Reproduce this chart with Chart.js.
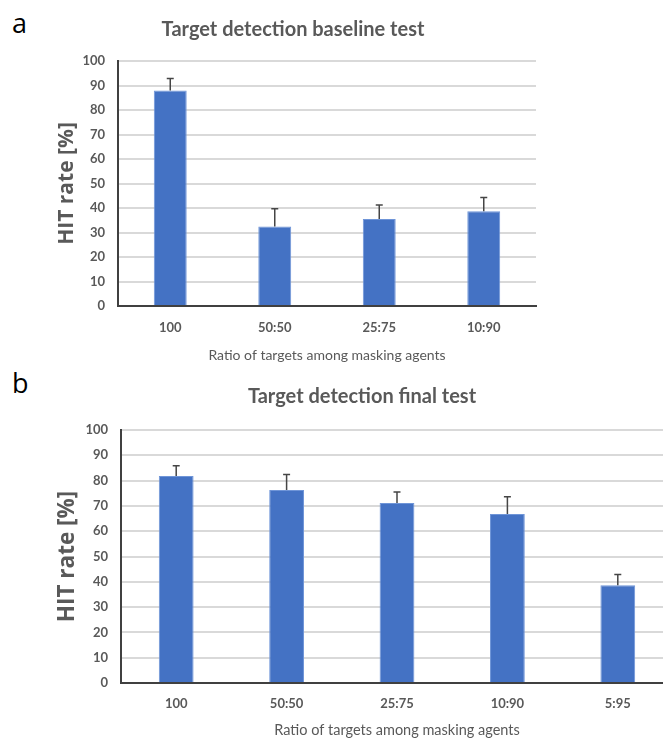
<!DOCTYPE html>
<html>
<head>
<meta charset="utf-8">
<script src="https://cdn.jsdelivr.net/npm/chart.js@4.4.1/dist/chart.umd.min.js"></script>
<style>
  html, body { margin: 0; padding: 0; background: #fff; }
  body { width: 663px; height: 739px; position: relative; overflow: hidden; }
  .panel { position: absolute; font-family: "Open Sans", sans-serif; font-size: 27px; color: #000; }
  canvas { position: absolute; left: 0; }
</style>
</head>
<body>
<div class="panel" style="left:12px; top:4px;">a</div>
<div class="panel" style="left:12px; top:364px;">b</div>
<canvas id="chartA" width="586" height="370" style="top:0; width:586px; height:370px;"></canvas>
<canvas id="chartB" width="724" height="369" style="top:370px; width:724px; height:369px;"></canvas>
<script>
// data
const categoriesA = ['100', '50:50', '25:75', '10:90'];
const hitRateA = [88, 32.5, 35.5, 38.7];
const errorA = [4.9, 7.2, 5.7, 5.6];

const categoriesB = ['100', '50:50', '25:75', '10:90', '5:95'];
const hitRateB = [81.8, 76.3, 71.1, 66.8, 38.6];
const errorB = [4.1, 6.1, 4.4, 6.8, 4.3];

const yTicks = [0, 10, 20, 30, 40, 50, 60, 70, 80, 90, 100];

const grey = '#595959';

// upper error bars with a cap, placed through the chart scales
const errorBars = {
  id: 'errorBars',
  afterDatasetsDraw(chart, args, opts) {
    const ctx = chart.ctx;
    const meta = chart.getDatasetMeta(0);
    const values = chart.data.datasets[0].data;
    const yScale = chart.scales.y;
    ctx.save();
    ctx.strokeStyle = '#454545';
    ctx.lineWidth = 1.5;
    meta.data.forEach((bar, i) => {
      const yTop = yScale.getPixelForValue(values[i] + opts.errors[i]);
      const yBase = yScale.getPixelForValue(values[i]);
      ctx.beginPath();
      ctx.moveTo(bar.x, yBase);
      ctx.lineTo(bar.x, yTop);
      ctx.moveTo(bar.x - 3.5, yTop);
      ctx.lineTo(bar.x + 3.5, yTop);
      ctx.stroke();
    });
    ctx.restore();
  }
};

function makeChart(id, labels, values, errors, title, opt) {
  return new Chart(document.getElementById(id), {
    type: 'bar',
    data: {
      labels: labels,
      datasets: [{
        data: values,
        backgroundColor: '#4472C4',
        borderColor: '#6f95d8',
        borderWidth: 1,
        barPercentage: 0.315,
        categoryPercentage: 1
      }]
    },
    options: {
      responsive: false,
      animation: false,
      plugins: {
        legend: { display: false },
        tooltip: { enabled: false },
        title: {
          display: true,
          text: title,
          color: grey,
          font: { family: 'Lato', size: 20, weight: 'bold', lineHeight: 1.2 },
          padding: { top: opt.titleTop, bottom: opt.titleBottom }
        },
        errorBars: { errors: errors }
      },
      scales: {
        x: {
          grid: { display: false },
          border: { display: true, color: '#404040', width: 2 },
          ticks: { color: grey, font: { family: 'Lato', size: 13, weight: 'bold' }, padding: opt.xTickPad },
          title: {
            display: true,
            text: 'Ratio of targets among masking agents',
            color: grey,
            font: { family: 'Lato', size: opt.xTitleSize, lineHeight: 1.2 },
            padding: { top: 0, bottom: opt.xTitleBottom }
          },
          afterFit(scale) { scale.height = opt.xHeight; }
        },
        y: {
          min: 0,
          max: 100,
          afterBuildTicks(scale) { scale.ticks = yTicks.map(v => ({ value: v })); },
          grid: {
            color: c => c.tick && c.tick.value === 0 ? 'rgba(0,0,0,0)' : '#d9d9d9',
            lineWidth: 2,
            drawTicks: false
          },
          border: { display: true, color: '#404040', width: 2 },
          ticks: { color: grey, font: { family: 'Lato', size: 13, weight: 'bold' }, padding: 13 },
          title: {
            display: true,
            text: 'HIT rate [%]',
            color: grey,
            font: { family: 'Open Sans', size: opt.yTitleSize, weight: 'bold', lineHeight: 1.2 },
            padding: { top: opt.yTitleTop, bottom: 0 }
          },
          afterFit(scale) { scale.width = opt.yWidth; }
        },
        // empty right-hand strip, keeps the chart title centred on the whole canvas
        spacer: {
          type: 'linear',
          position: 'right',
          display: true,
          grid: { display: false },
          border: { display: false },
          ticks: { display: false },
          afterFit(scale) { scale.width = opt.right; }
        }
      }
    },
    plugins: [errorBars]
  });
}

makeChart('chartA', categoriesA, hitRateA, errorA, 'Target detection baseline test', {
  right: 50, titleTop: 18, titleBottom: 19, xHeight: 64, xTickPad: 6,
  xTitleSize: 14, xTitleBottom: 6, yWidth: 118, yTitleSize: 21, yTitleTop: 54
});

makeChart('chartB', categoriesB, hitRateB, errorB, 'Target detection final test', {
  right: 51, titleTop: 15, titleBottom: 21, xHeight: 56, xTickPad: 5,
  xTitleSize: 14.5, xTitleBottom: 0, yWidth: 121, yTitleSize: 22.5, yTitleTop: 54
});
</script>
</body>
</html>
